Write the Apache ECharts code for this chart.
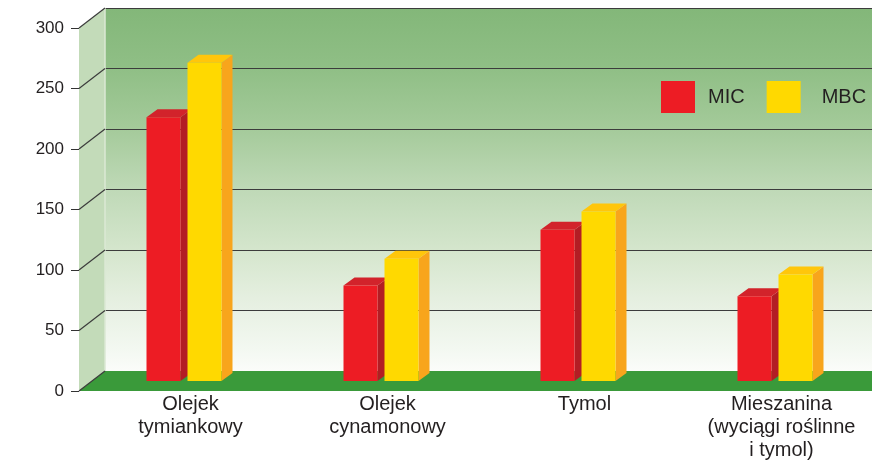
<!DOCTYPE html>
<html>
<head>
<meta charset="utf-8">
<style>
  html, body { margin: 0; padding: 0; background: #fff; }
  #chart { width: 872px; height: 461px; }
</style>
<script src="https://cdn.jsdelivr.net/npm/echarts@6/dist/echarts.min.js"></script>
</head>
<body>
<div id="chart"></div>
<script>
const categories = ['Olejek\ntymiankowy', 'Olejek\ncynamonowy', 'Tymol', 'Mieszanina\n(wyciągi roślinne\ni tymol)']
const micValues = [218, 79, 125, 70]
const mbcValues = [263, 101, 140, 88]
const yTicks = [0, 50, 100, 150, 200, 250, 300]

const FONT = '"Liberation Sans", Arial, Helvetica, sans-serif'
const TEXT = '#231f20'
// front edge -> back wall offset
const DX = 26
const DY = -20
// bar box
const BAR_W = 34
const BAR_DX = 11
const BAR_DY = -8

const red = { front: '#ed1c24', top: '#d2232b', side: '#b31d24' }
const yellow = { front: '#ffd900', top: '#ffc60b', side: '#f8a51c' }

function barRenderer(offset, c) {
  return function (params, api) {
    const top = api.coord([api.value(0), api.value(1)])
    const base = api.coord([api.value(0), 0])
    const x = top[0] + offset
    const y = top[1]
    const y0 = base[1]
    return {
      type: 'group',
      children: [
        {
          type: 'polygon',
          shape: { points: [[x + BAR_W, y0], [x + BAR_W + BAR_DX, y0 + BAR_DY], [x + BAR_W + BAR_DX, y + BAR_DY], [x + BAR_W, y]] },
          style: { fill: c.side }
        },
        {
          type: 'polygon',
          shape: { points: [[x, y], [x + BAR_W, y], [x + BAR_W + BAR_DX, y + BAR_DY], [x + BAR_DX, y + BAR_DY]] },
          style: { fill: c.top }
        },
        {
          type: 'rect',
          shape: { x: x, y: y, width: BAR_W, height: y0 - y },
          style: { fill: c.front }
        }
      ]
    }
  }
}

function wallsRenderer(params, api) {
  const cs = params.coordSys
  const y0 = api.coord([0, 0])[1]
  const yTop = api.coord([0, api.value(1)])[1]
  const x = cs.x
  const right = cs.x + cs.width + 60
  return {
    type: 'group',
    children: [
      {
        type: 'polygon',
        shape: { points: [[x, y0], [x + DX, y0 + DY], [x + DX, yTop + DY], [x, yTop]] },
        style: { fill: '#c3dbb9' }
      },
      {
        type: 'line',
        shape: { x1: x + DX, y1: y0 + DY, x2: x + DX, y2: yTop + DY },
        style: { stroke: '#dbe9d5', lineWidth: 1.5 }
      },
      {
        type: 'polygon',
        shape: { points: [[x, y0], [x + DX, y0 + DY], [right, y0 + DY], [right, y0]] },
        style: { fill: '#3a9a3a' }
      }
    ]
  }
}

function diagRenderer(params, api) {
  const cs = params.coordSys
  const y = api.coord([0, api.value(1)])[1]
  return {
    type: 'line',
    shape: { x1: cs.x, y1: y, x2: cs.x + DX, y2: y + DY },
    style: { stroke: '#3c3c3c', lineWidth: 1.2 }
  }
}

const chart = echarts.init(document.getElementById('chart'))
chart.setOption({
  animation: false,
  backgroundColor: '#fff',
  textStyle: { fontFamily: FONT },
  legend: {
    left: 661,
    top: 81,
    padding: 0,
    itemWidth: 34,
    itemHeight: 32,
    itemGap: 22,
    icon: 'rect',
    textStyle: { fontSize: 20, color: TEXT, fontFamily: FONT },
    data: [
      { name: 'MIC', textStyle: { padding: [0, 0, 0, 8] } },
      { name: 'MBC', textStyle: { padding: [0, 0, 0, 16] } }
    ]
  },
  grid: [
    // front edge: y labels
    { left: 79, width: 788, top: 28, bottom: 70, outerBoundsMode: 'none' },
    // back wall
    {
      left: 105, width: 800, top: 8, bottom: 90,
      outerBoundsMode: 'none',
      show: true,
      borderWidth: 0,
      backgroundColor: new echarts.graphic.LinearGradient(0, 0, 0, 1, [
        { offset: 0, color: '#83b779' },
        { offset: 0.17, color: '#90bf86' },
        { offset: 0.33, color: '#a4ca9a' },
        { offset: 0.5, color: '#bfd9b7' },
        { offset: 0.67, color: '#d5e6cd' },
        { offset: 0.8, color: '#e5efe0' },
        { offset: 0.94, color: '#f3f8f1' },
        { offset: 1, color: '#fbfcfa' }
      ])
    },
    // bars plane
    { left: 92, width: 788, top: 18, bottom: 80, outerBoundsMode: 'none' }
  ],
  xAxis: [
    { gridIndex: 0, type: 'category', data: categories, show: false },
    { gridIndex: 1, type: 'category', data: categories, show: false },
    {
      gridIndex: 2,
      type: 'category',
      data: categories,
      axisLine: { show: false },
      axisTick: { show: false },
      axisLabel: {
        margin: 12,
        fontSize: 20,
        lineHeight: 23,
        color: TEXT,
        fontFamily: FONT,
        interval: 0
      }
    }
  ],
  yAxis: [
    {
      gridIndex: 0,
      type: 'value',
      min: 0,
      max: 300,
      interval: 50,
      axisLine: { show: false },
      axisTick: { show: true, length: 8, lineStyle: { color: '#333', width: 1 } },
      splitLine: { show: false },
      axisLabel: { margin: 15, fontSize: 17, color: TEXT, fontFamily: FONT }
    },
    {
      gridIndex: 1,
      type: 'value',
      min: 0,
      max: 300,
      interval: 50,
      axisLine: { show: false },
      axisTick: { show: false },
      axisLabel: { show: false },
      splitLine: { show: true, lineStyle: { color: '#3c3c3c', width: 1.2 } }
    },
    {
      gridIndex: 2,
      type: 'value',
      min: 0,
      max: 300,
      interval: 50,
      show: false,
      splitLine: { show: false }
    }
  ],
  series: [
    {
      type: 'custom',
      xAxisIndex: 0,
      yAxisIndex: 0,
      z: 1,
      silent: true,
      renderItem: wallsRenderer,
      data: [[0, yTicks[yTicks.length - 1]]]
    },
    {
      type: 'custom',
      xAxisIndex: 0,
      yAxisIndex: 0,
      z: 2,
      silent: true,
      renderItem: diagRenderer,
      data: yTicks.map(t => [0, t])
    },
    {
      name: 'MIC',
      type: 'custom',
      xAxisIndex: 2,
      yAxisIndex: 2,
      z: 3,
      itemStyle: { color: red.front },
      renderItem: barRenderer(-44, red),
      data: micValues.map((v, i) => [i, v])
    },
    {
      name: 'MBC',
      type: 'custom',
      xAxisIndex: 2,
      yAxisIndex: 2,
      z: 4,
      itemStyle: { color: yellow.front },
      renderItem: barRenderer(-3, yellow),
      data: mbcValues.map((v, i) => [i, v])
    }
  ]
})
</script>
</body>
</html>
